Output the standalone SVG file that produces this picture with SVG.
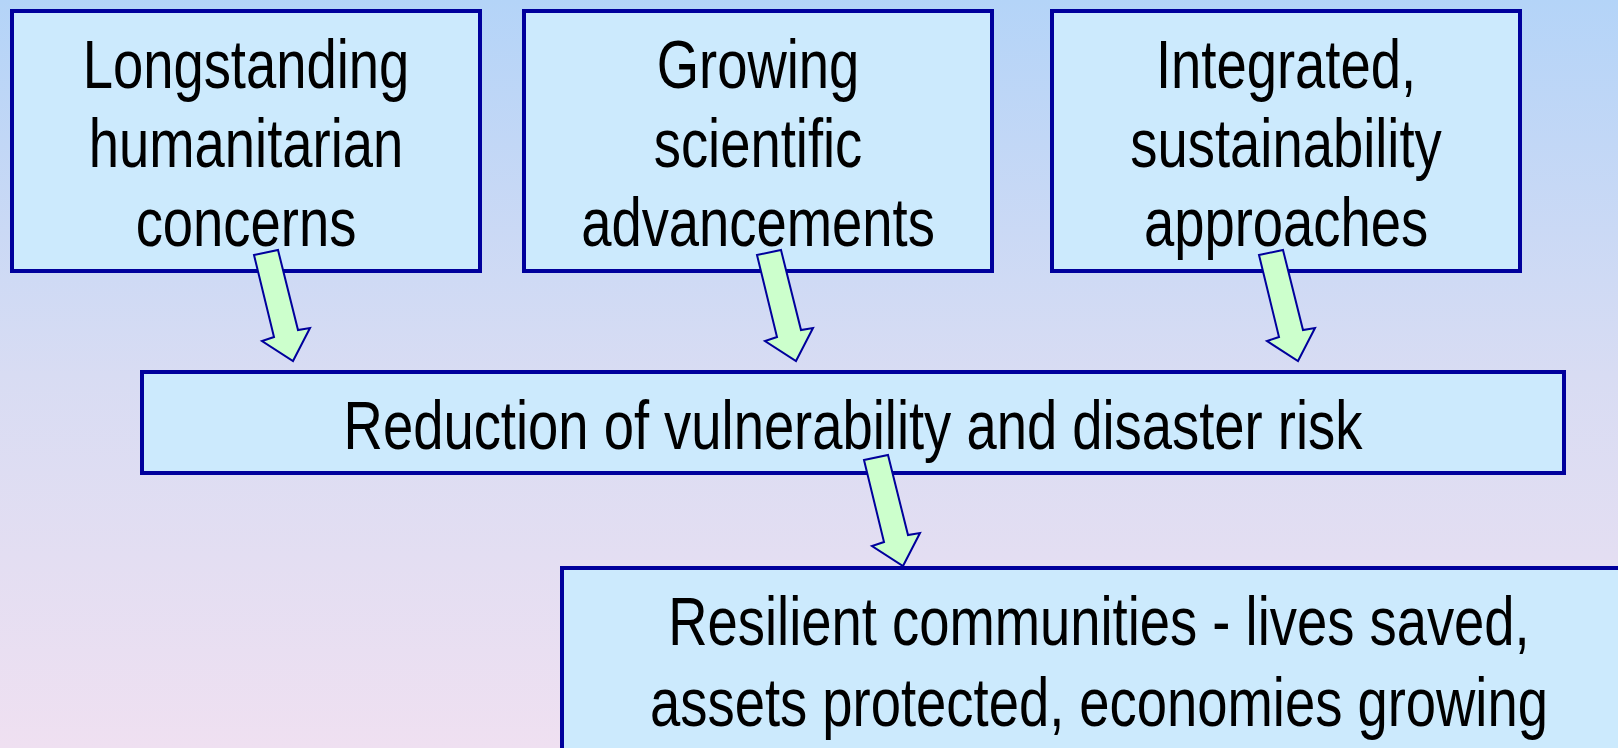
<svg xmlns="http://www.w3.org/2000/svg" xmlns:xlink="http://www.w3.org/1999/xlink" width="1618" height="748" viewBox="0 0 1618 748">
  <defs>
    <linearGradient id="bg" x1="0" y1="0" x2="0" y2="1">
      <stop offset="0" stop-color="#b4d4f8"/>
      <stop offset="0.5" stop-color="#d8dcf3"/>
      <stop offset="1" stop-color="#efe0f1"/>
    </linearGradient>
    <path id="arrow" d="M-39,-106 L-15,-111 L5,-31 L17,-33 L0,0 L-31,-20 L-19,-24 Z"/>
    <style>
      .box { fill: #cceafd; stroke: #00009c; stroke-width: 4; }
      .lbl { font-family: "Liberation Sans", Arial, sans-serif; font-size: 68px; fill: #000000; text-anchor: middle; }
      .arr { fill: #ccffcc; stroke: #00009c; stroke-width: 2; stroke-linejoin: miter; }
    </style>
  </defs>
  <rect x="0" y="0" width="1618" height="748" fill="url(#bg)"/>

  <g id="node-longstanding">
    <rect class="box" x="12" y="11" width="468" height="260"/>
    <text class="lbl" transform="translate(246,88) scale(0.8,1)" x="0" y="0">Longstanding</text>
    <text class="lbl" transform="translate(246,167) scale(0.8,1)" x="0" y="0">humanitarian</text>
    <text class="lbl" transform="translate(246,246) scale(0.8,1)" x="0" y="0">concerns</text>
  </g>

  <g id="node-growing">
    <rect class="box" x="524" y="11" width="468" height="260"/>
    <text class="lbl" transform="translate(758,88) scale(0.8,1)" x="0" y="0">Growing</text>
    <text class="lbl" transform="translate(758,167) scale(0.8,1)" x="0" y="0">scientific</text>
    <text class="lbl" transform="translate(758,246) scale(0.8,1)" x="0" y="0">advancements</text>
  </g>

  <g id="node-integrated">
    <rect class="box" x="1052" y="11" width="468" height="260"/>
    <text class="lbl" transform="translate(1286,88) scale(0.8,1)" x="0" y="0">Integrated,</text>
    <text class="lbl" transform="translate(1286,167) scale(0.8,1)" x="0" y="0">sustainability</text>
    <text class="lbl" transform="translate(1286,246) scale(0.8,1)" x="0" y="0">approaches</text>
  </g>

  <g id="node-reduction">
    <rect class="box" x="142" y="372" width="1422" height="101"/>
    <text class="lbl" transform="translate(853,449) scale(0.8,1)" x="0" y="0">Reduction of vulnerability and disaster risk</text>
  </g>

  <g id="node-resilient">
    <rect class="box" x="562" y="568" width="1100" height="300"/>
    <text class="lbl" transform="translate(1099,645) scale(0.8,1)" x="0" y="0">Resilient communities - lives saved,</text>
    <text class="lbl" transform="translate(1099,726) scale(0.8,1)" x="0" y="0">assets protected, economies growing</text>
  </g>

  <g id="connectors">
    <use xlink:href="#arrow" class="arr" transform="translate(293,361)"/>
    <use xlink:href="#arrow" class="arr" transform="translate(796,361)"/>
    <use xlink:href="#arrow" class="arr" transform="translate(1298,361)"/>
    <use xlink:href="#arrow" class="arr" transform="translate(903,566)"/>
  </g>
</svg>
